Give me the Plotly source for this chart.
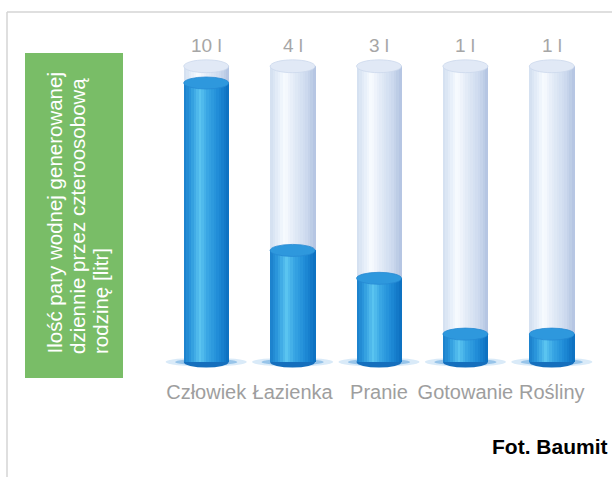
import plotly.graph_objects as go

# ---- data ----
categories = ["Człowiek", "Łazienka", "Pranie", "Gotowanie", "Rośliny"]
values = [10, 4, 3, 1, 1]
value_labels = ["10 l", "4 l", "3 l", "1 l", "1 l"]
capacity = [10.6, 10.6, 10.6, 10.6, 10.6]
title_lines = ["Ilość pary wodnej generowanej",
               "dziennie przez czteroosobową",
               "rodzinę [litr]"]
source_text = "Fot. Baumit"

# ---- layout geometry (pixels) ----
W, H = 612, 477
ML, MR, MT, MB = 163, 17, 46, 103
PW, PH = W - ML - MR, H - MT - MB


def px(x):
    return (x - ML) / PW


def py(y):
    return (H - MB - y) / PH


def hex2rgb(h):
    h = h.lstrip('#')
    return tuple(int(h[i:i + 2], 16) for i in (0, 2, 4))


def grad(stops, t):
    for (t0, c0), (t1, c1) in zip(stops, stops[1:]):
        if t0 <= t <= t1:
            f = (t - t0) / (t1 - t0) if t1 > t0 else 0
            a, b = hex2rgb(c0), hex2rgb(c1)
            return "rgb(%d,%d,%d)" % tuple(round(a[i] + (b[i] - a[i]) * f) for i in range(3))
    return stops[-1][1]


blue_stops = [(0.0, "#1a7fcb"), (0.15, "#2b97dc"), (0.36, "#5ac4f0"),
              (0.52, "#3aa7e4"), (0.78, "#1e8ad6"), (1.0, "#0c6fbf")]
pale_stops = [(0.0, "#d2def0"), (0.15, "#e3ecf8"), (0.32, "#f8fbff"),
              (0.5, "#e5edf8"), (0.8, "#cddaee"), (1.0, "#b2c3e1")]

xs = list(range(len(categories)))
BW = 0.52
N = 18
sw = BW / N

fig = go.Figure()
for stops, ys in ((pale_stops, capacity), (blue_stops, values)):
    for k in range(N):
        t = (k + 0.5) / N
        fig.add_trace(go.Bar(
            x=xs, y=ys, width=sw + 0.006, offset=-BW / 2 + k * sw,
            marker=dict(color=grad(stops, t), line=dict(width=0)),
            showlegend=False, hoverinfo="skip"))

shapes = []
# frame
shapes.append(dict(type="line", xref="paper", yref="paper",
                   x0=px(7), x1=px(640), y0=py(12), y1=py(12),
                   line=dict(color="#d4d4d4", width=1.5)))
shapes.append(dict(type="line", xref="paper", yref="paper",
                   x0=px(7), x1=px(7), y0=py(12), y1=py(490),
                   line=dict(color="#d4d4d4", width=1.5)))
# green label box
shapes.append(dict(type="rect", xref="paper", yref="paper",
                   x0=px(25), x1=px(123), y0=py(378), y1=py(53),
                   fillcolor="#79bd67", line=dict(width=0), layer="below"))

for i, (v, c) in enumerate(zip(values, capacity)):
    # glow under cylinder
    shapes.append(dict(type="circle", xref="x", yref="y", layer="below",
                       x0=i - 0.47, x1=i + 0.47, y0=-0.16, y1=0.16,
                       fillcolor="rgba(80,160,225,0.22)", line=dict(width=0)))
    shapes.append(dict(type="circle", xref="x", yref="y", layer="below",
                       x0=i - 0.36, x1=i + 0.36, y0=-0.12, y1=0.12,
                       fillcolor="rgba(30,125,205,0.35)", line=dict(width=0)))
    # bottom of cylinder
    shapes.append(dict(type="circle", xref="x", yref="y", layer="below",
                       x0=i - BW / 2, x1=i + BW / 2, y0=-0.2, y1=0.2,
                       fillcolor="#156fbd", line=dict(width=0)))
    # top cap of the empty tube
    shapes.append(dict(type="circle", xref="x", yref="y",
                       x0=i - BW / 2, x1=i + BW / 2, y0=c - 0.23, y1=c + 0.23,
                       fillcolor="#e1e9f6", line=dict(color="#cbd8ec", width=0.8)))
    # top surface of the filled part
    shapes.append(dict(type="circle", xref="x", yref="y",
                       x0=i - BW / 2, x1=i + BW / 2, y0=v - 0.215, y1=v + 0.215,
                       fillcolor="#2e98dd", line=dict(color="#2689d3", width=0.8)))

annotations = []
for i, (lab, c) in enumerate(zip(value_labels, capacity)):
    annotations.append(dict(x=i, y=c, xref="x", yref="y", text=lab,
                            showarrow=False, yshift=21, yanchor="middle",
                            font=dict(family="Liberation Sans", size=19, color="#a6a6a6")))

for j, line in enumerate(title_lines):
    annotations.append(dict(x=px(54 + 23 * j), y=py(356), xref="paper", yref="paper",
                            text=line, textangle=-90, showarrow=False,
                            xanchor="center", yanchor="bottom",
                            font=dict(family="Liberation Sans", size=20.5, color="white")))

annotations.append(dict(x=px(610), y=py(446), xref="paper", yref="paper",
                        text="<b>%s</b>" % source_text, showarrow=False,
                        xanchor="right", yanchor="middle",
                        font=dict(family="Liberation Sans", size=21, color="black")))

fig.update_layout(
    width=W, height=H,
    margin=dict(l=ML, r=MR, t=MT, b=MB, pad=0),
    barmode="overlay",
    plot_bgcolor="white", paper_bgcolor="white",
    shapes=shapes, annotations=annotations,
    xaxis=dict(range=[-0.5, 4.5], tickvals=xs, ticktext=categories,
               showgrid=False, zeroline=False, showline=False, ticks="",
               ticklabelstandoff=4,
               tickfont=dict(family="Liberation Sans", size=20, color="#9e9e9e"),
               fixedrange=True),
    yaxis=dict(range=[-0.43, 11.326], showgrid=False, zeroline=False,
               showline=False, showticklabels=False, fixedrange=True),
    bargap=0,
)

fig.write_html("out.html", config={"displayModeBar": False},
               post_script="document.body.style.margin='0';document.body.style.overflow='hidden';")
